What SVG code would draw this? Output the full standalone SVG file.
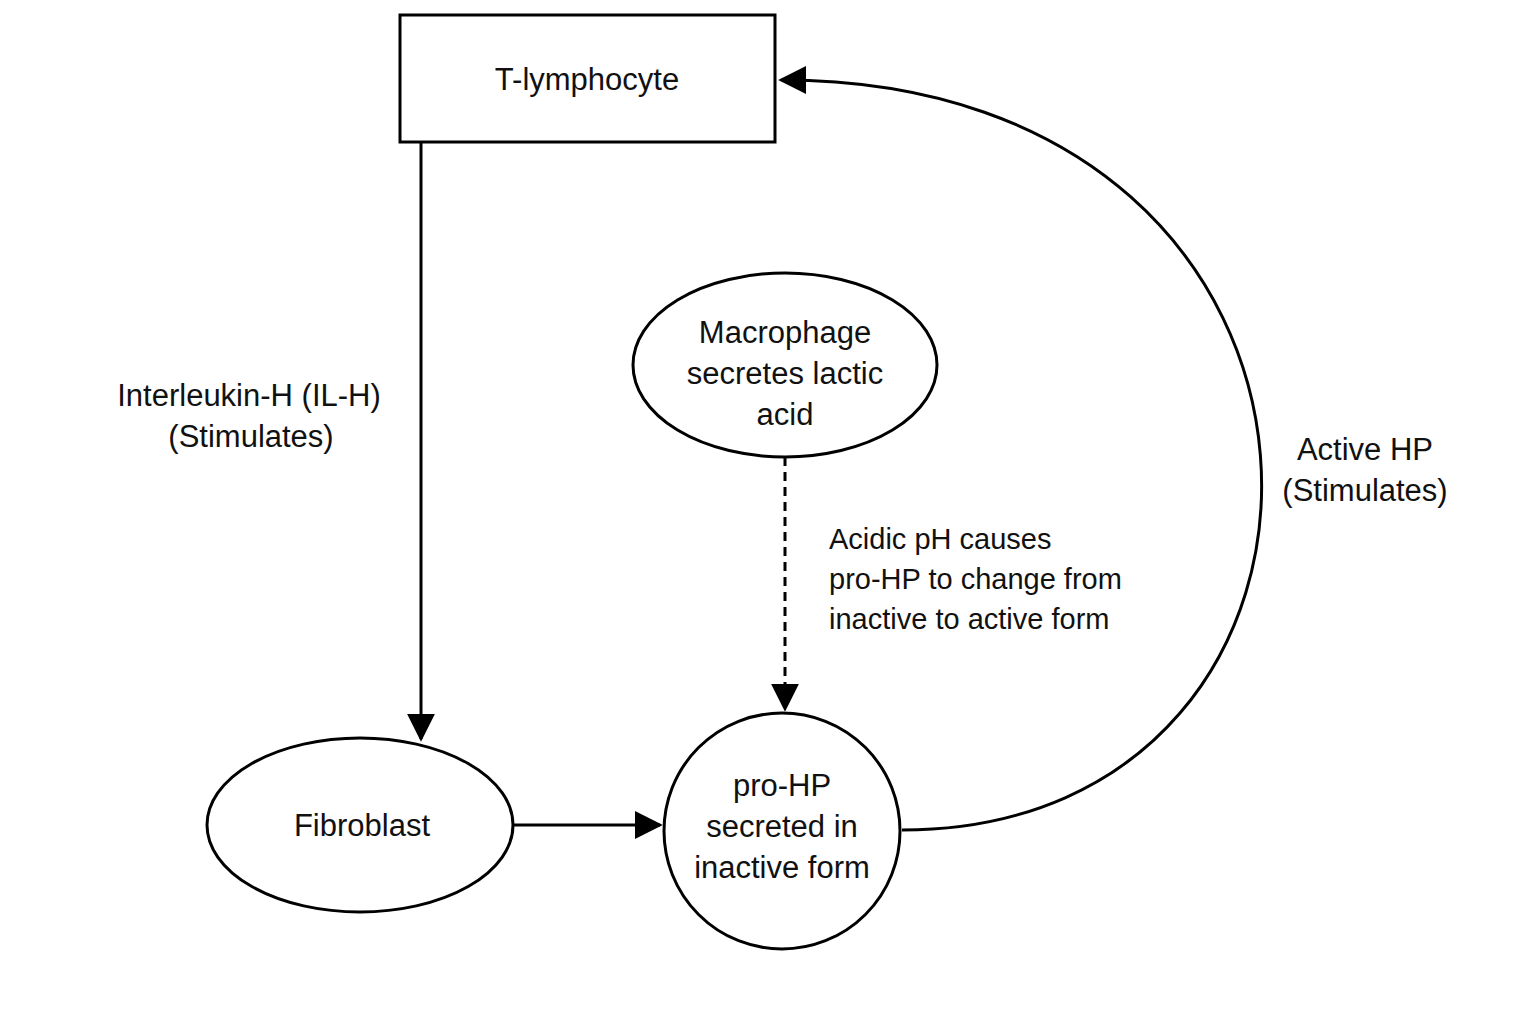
<svg xmlns="http://www.w3.org/2000/svg" width="1536" height="1024" viewBox="0 0 1536 1024">
<defs>
<style>
.n{fill:#fff;stroke:#000;stroke-width:3}
.t{font-family:"Liberation Sans",Arial,sans-serif;font-size:31px;fill:#111;text-anchor:middle}
.l{font-family:"Liberation Sans",Arial,sans-serif;font-size:29px;fill:#111}
.c{fill:none;stroke:#000;stroke-width:3}
</style>
<marker id="a" viewBox="0 0 10 10" refX="9" refY="5" markerWidth="9" markerHeight="9" markerUnits="userSpaceOnUse" orient="auto"><path d="M0,0 L10,5 L0,10 z" fill="#000"/></marker>
<marker id="b" viewBox="0 0 10 10" refX="9" refY="5" markerWidth="28" markerHeight="28" markerUnits="userSpaceOnUse" orient="auto"><path d="M0,0 L10,5 L0,10 z" fill="#000"/></marker>
</defs>
<rect width="1536" height="1024" fill="#fff"/>
<g id="connectors">
<line class="c" x1="421" y1="142" x2="421" y2="739" marker-end="url(#b)"/>
<line class="c" x1="513" y1="825" x2="660" y2="825" marker-end="url(#b)"/>
<line class="c" x1="785" y1="457" x2="785" y2="709" stroke-dasharray="9,6" marker-end="url(#b)"/>
<path class="c" d="M902 830 C1400 830 1400 80 781 80" marker-end="url(#b)"/>
</g>
<g id="tlymph"><rect class="n" x="400" y="15" width="375" height="127"/><text class="t" x="587" y="90">T-lymphocyte</text></g>
<g id="macrophage"><ellipse class="n" cx="785" cy="365" rx="152" ry="92"/><text class="t" x="785" y="343">Macrophage</text><text class="t" x="785" y="384">secretes lactic</text><text class="t" x="785" y="425">acid</text></g>
<g id="fibroblast"><ellipse class="n" cx="360" cy="825" rx="153" ry="87"/><text class="t" x="362" y="836">Fibroblast</text></g>
<g id="prohp"><circle class="n" cx="782" cy="831" r="118"/><text class="t" x="782" y="796">pro-HP</text><text class="t" x="782" y="837">secreted in</text><text class="t" x="782" y="878">inactive form</text></g>
<g id="labels">
<text class="t" x="249" y="406">Interleukin-H (IL-H)</text><text class="t" x="251" y="447">(Stimulates)</text>
<text class="l" x="829" y="549">Acidic pH causes</text><text class="l" x="829" y="589">pro-HP to change from</text><text class="l" x="829" y="629">inactive to active form</text>
<text class="t" x="1365" y="460">Active HP</text><text class="t" x="1365" y="501">(Stimulates)</text>
</g>
</svg>
